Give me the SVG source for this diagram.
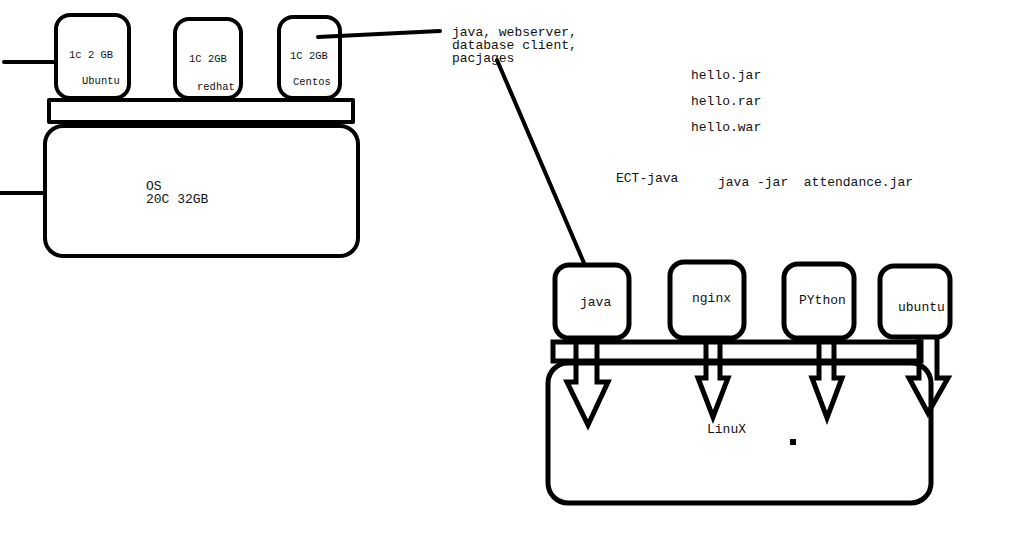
<svg xmlns="http://www.w3.org/2000/svg" width="1031" height="549" viewBox="0 0 1031 549">
<style>
.b{fill:none;stroke:#000;stroke-width:4;stroke-linejoin:round}
.b5{fill:none;stroke:#000;stroke-width:5;stroke-linejoin:miter}
.ln{stroke:#000;stroke-width:4;stroke-linecap:round;fill:none}
.t{font-family:"Liberation Mono","DejaVu Sans Mono",monospace;font-size:13px;fill:#111}
.s{font-family:"Liberation Mono","DejaVu Sans Mono",monospace;font-size:10.5px;fill:#111}
</style>
<rect width="1031" height="549" fill="#fff"/>
<g id="connectors">
<line class="ln" x1="4" y1="62" x2="56" y2="62"/>
<line class="ln" x1="0" y1="193" x2="44" y2="193"/>
<line class="ln" x1="318" y1="37" x2="440" y2="31"/>
<line class="ln" x1="497" y1="60" x2="584" y2="263"/>
</g>
<g id="ubuntu-vm">
<rect class="b" x="56" y="15" width="73" height="83" rx="14"/>
<text class="s" x="69" y="58">1c 2 GB</text>
<text class="s" x="82" y="84">Ubuntu</text>
</g>
<g id="redhat-vm">
<rect class="b" x="175" y="19" width="66" height="79" rx="14"/>
<text class="s" x="189" y="62">1C 2GB</text>
<text class="s" x="197" y="90">redhat</text>
</g>
<g id="centos-vm">
<rect class="b" x="279" y="17" width="61" height="81" rx="14"/>
<text class="s" x="290" y="59">1C 2GB</text>
<text class="s" x="293" y="85">Centos</text>
</g>
<g id="hypervisor-bar">
<rect class="b" x="49" y="100" width="304" height="22" stroke-linejoin="miter"/>
</g>
<g id="os-host">
<rect class="b" x="45" y="126" width="313" height="130" rx="18"/>
<text class="t" x="146" y="190">OS</text>
<text class="t" x="146" y="203">20C 32GB</text>
</g>
<g id="notes">
<text class="t" x="452" y="36">java, webserver,</text>
<text class="t" x="452" y="49">database client,</text>
<text class="t" x="452" y="62">pacjages</text>
<text class="t" x="691" y="79">hello.jar</text>
<text class="t" x="691" y="105">hello.rar</text>
<text class="t" x="691" y="131">hello.war</text>
<text class="t" x="616" y="182">ECT-java</text>
<text class="t" x="718" y="186" xml:space="preserve">java -jar  attendance.jar</text>
</g>
<g id="linux-host">
<rect class="b5" x="548" y="363" width="383" height="140" rx="20"/>
<text class="t" x="707" y="433">LinuX</text>
<rect x="790" y="439" width="6" height="6" fill="#000"/>
</g>
<g id="container-bar">
<rect class="b5" x="553" y="342" width="368" height="19"/>
</g>
<g id="java-c">
<rect class="b5" x="555" y="265" width="74" height="73" rx="14"/>
<text class="t" x="580" y="306">java</text>
</g>
<g id="nginx-c">
<rect class="b5" x="670" y="262" width="74" height="76" rx="14"/>
<text class="t" x="692" y="302">nginx</text>
</g>
<g id="python-c">
<rect class="b5" x="784" y="264" width="70" height="74" rx="14"/>
<text class="t" x="799" y="304">PYthon</text>
</g>
<g id="ubuntu-c">
<rect class="b5" x="880" y="266" width="70" height="71" rx="14"/>
<text class="t" x="898" y="311" fill="#14215a">ubuntu</text>
</g>
<g id="arrows">
<polyline class="b5" points="576,338 576,382 567,382 588,425 608,382 597,382 597,338"/>
<polyline class="b5" points="706,338 706,378 698,378 713,417 728,378 720,378 720,338"/>
<polyline class="b5" points="819,338 819,378 812,378 827,418 842,378 834,378 834,338"/>
<polyline class="b5" points="919,338 919,378 909,378 928,413 948,378 937,378 937,338"/>
</g>
</svg>
